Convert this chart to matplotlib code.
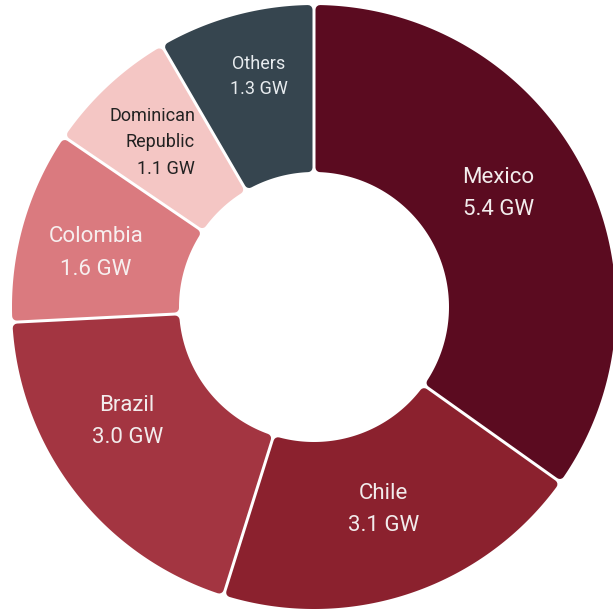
import numpy as np
import matplotlib
matplotlib.use("Agg")
import matplotlib.pyplot as plt
from matplotlib.patches import Polygon

# Installed capacity by market
countries = ["Mexico", "Chile", "Brazil", "Colombia", "Dominican\nRepublic", "Others"]
capacity_gw = [5.4, 3.1, 3.0, 1.6, 1.1, 1.3]
colors = ["#5B0B20", "#8B212E", "#A33541", "#DA7A7F", "#F4C6C4", "#36454F"]
text_colors = ["#F2ECEC", "#F2ECEC", "#F2ECEC", "#F7EFEF", "#222222", "#E8ECEF"]
font_sizes = [16, 16, 16, 16, 13, 13]
line_spacings = [1.7, 1.7, 1.7, 1.7, 1.6, 1.5]
# small per-label nudges (px) away from the mid-ring position
nudges = [(-10, 13), (0, 5), (-14, 19), (-8, -5), (-14, 5), (2, 20)]
aligns = ["center", "center", "center", "center", "right", "center"]

W, H = 613, 611
fig = plt.figure(figsize=(W / 100, H / 100), dpi=100)
ax = fig.add_axes([0, 0, 1, 1])
ax.set_xlim(0, W)
ax.set_ylim(0, H)
ax.axis("off")

cx, cy = 314, 304
R_out, R_in = 302, 135
gap = 3.0
rc = 4.5
d = gap / 2 + rc

total = sum(capacity_gw)
cum = 0.0
for name, v, col, tc, fs, ls, (nx, ny), ha in zip(countries, capacity_gw, colors,
                                                  text_colors, font_sizes, line_spacings,
                                                  nudges, aligns):
    t0 = 90 - cum / total * 360
    t1 = 90 - (cum + v) / total * 360
    cum += v
    ro, ri = R_out - rc, R_in + rc
    ao = np.degrees(np.arcsin(d / ro))
    ai = np.degrees(np.arcsin(d / ri))
    outer = np.radians(np.linspace(t0 - ao, t1 + ao, 200))
    inner = np.radians(np.linspace(t1 + ai, t0 - ai, 100))
    xs = np.concatenate([cx + ro * np.cos(outer), cx + ri * np.cos(inner)])
    ys = np.concatenate([cy + ro * np.sin(outer), cy + ri * np.sin(inner)])
    poly = Polygon(np.column_stack([xs, ys]), closed=True, facecolor=col,
                   edgecolor=col, linewidth=2 * rc * 0.72, joinstyle="round")
    ax.add_patch(poly)

    tm = np.radians((t0 + t1) / 2)
    rm = (R_out + R_in) / 2
    lx = cx + rm * np.cos(tm) + nx
    ly = cy + rm * np.sin(tm) + ny
    if ha == "right":
        lx += 44
    ax.text(lx, ly, f"{name}\n{v:.1f} GW", ha=ha, va="center", color=tc,
            fontsize=fs, family=["Roboto", "DejaVu Sans"], linespacing=ls,
            multialignment=ha)

fig.savefig("out.png", dpi=100, facecolor="white")
